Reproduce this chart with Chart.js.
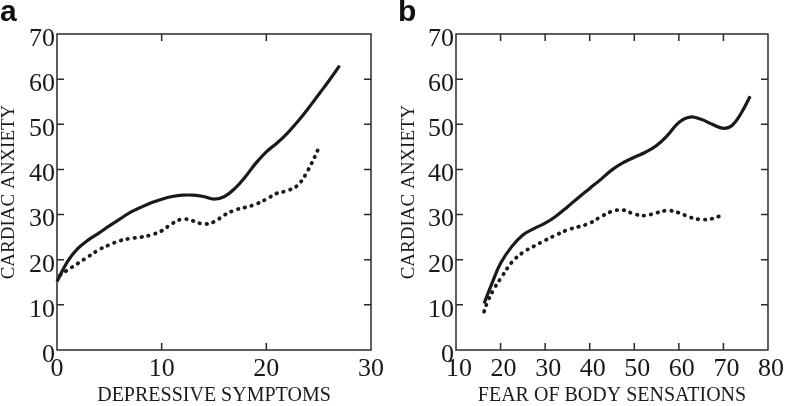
<!DOCTYPE html>
<html>
<head>
<meta charset="utf-8">
<script src="https://cdn.jsdelivr.net/npm/chart.js@4"></script>
<style>
  body { margin: 0; background: #fff; }
  #wrap { position: relative; width: 787px; height: 406px; overflow: hidden; }
  .panel { position: absolute; top: 0; }
  .tag { position: absolute; top: -6px; font: bold 30px "Liberation Sans", Arial, sans-serif; color: #111; }
</style>
</head>
<body>
<div id="wrap">
  <div class="panel" style="left:0"><canvas id="chartA" width="393" height="406"></canvas></div>
  <div class="panel" style="left:394px"><canvas id="chartB" width="393" height="406"></canvas></div>
  <span class="tag" style="left:0">a</span>
  <span class="tag" style="left:398px">b</span>
</div>
<script>
// panel a: depressive symptoms
const depSolidX = [0, 1, 2, 3, 4, 5, 6, 7, 8, 9, 10, 11, 12, 13, 14, 15, 16, 17, 18, 19, 20, 21, 22, 23, 24, 25, 26, 27];
const depSolidY = [15.2, 19.6, 22.5, 24.4, 25.9, 27.5, 29.0, 30.5, 31.6, 32.6, 33.4, 34.0, 34.3, 34.3, 34.0, 33.4, 34.0, 35.8, 38.4, 41.4, 43.9, 45.8, 48.0, 50.6, 53.5, 56.6, 59.7, 63.0];
const depDotX = [0.3, 1, 2, 3, 4, 5, 6, 7, 8, 9, 10, 11, 12, 13, 14, 15, 16, 17, 18, 19, 20, 21, 22, 23, 24, 25];
const depDotY = [16.6, 17.7, 19.2, 20.7, 22.2, 23.3, 24.2, 24.7, 25.0, 25.5, 26.4, 28.0, 29.0, 28.6, 27.9, 28.4, 29.9, 31.0, 31.6, 32.3, 33.4, 34.7, 35.3, 36.5, 39.9, 44.7];

// panel b: fear of body sensations
const fearSolidX = [16.3, 18, 20, 22.5, 25, 27.5, 30, 32.5, 35, 37.5, 40, 42.5, 45, 47.5, 50, 52.5, 55, 57.5, 60, 62.5, 65, 67.5, 70, 72, 74, 76];
const fearSolidY = [10.3, 14.6, 19.2, 22.9, 25.5, 26.9, 28.1, 29.7, 31.7, 33.8, 35.8, 37.8, 39.9, 41.5, 42.7, 43.8, 45.3, 47.6, 50.4, 51.6, 51.1, 50.0, 49.1, 49.8, 52.5, 56.2];
const fearDotX = [16.3, 17, 18.5, 20, 22.5, 25, 27.5, 30, 32.5, 35, 37.5, 40, 42.5, 45, 47.5, 50, 52.5, 55, 57.5, 60, 62.5, 65, 67.5, 69];
const fearDotY = [8.5, 10.5, 13.5, 15.8, 19.4, 21.6, 23.0, 24.3, 25.5, 26.6, 27.3, 28.1, 29.5, 30.7, 31.0, 30.1, 29.8, 30.4, 30.9, 30.4, 29.4, 28.9, 29.1, 29.6];

const yTicks = [0, 10, 20, 30, 40, 50, 60, 70];

const serif = '"Liberation Serif", "Times New Roman", serif';
const ink = '#1a1a1a';

const toPoints = (xs, ys) => xs.map((x, i) => ({ x: x, y: ys[i] }));

// box round the plot with inward tick marks on all four sides
const frame = {
  id: 'frame',
  afterDraw: (chart) => {
    const { ctx, chartArea: a, scales: { x, y } } = chart;
    ctx.save();
    ctx.strokeStyle = '#2a2a2a';
    ctx.lineWidth = 1.5;
    ctx.strokeRect(a.left, a.top, a.width, a.height);
    ctx.beginPath();
    x.ticks.forEach(t => {
      if (t.value <= x.min || t.value >= x.max) return;
      const px = x.getPixelForValue(t.value);
      ctx.moveTo(px, a.bottom); ctx.lineTo(px, a.bottom - 7);
      ctx.moveTo(px, a.top); ctx.lineTo(px, a.top + 7);
    });
    y.ticks.forEach(t => {
      if (t.value <= y.min || t.value >= y.max) return;
      const py = y.getPixelForValue(t.value);
      ctx.moveTo(a.left, py); ctx.lineTo(a.left + 7, py);
      ctx.moveTo(a.right, py); ctx.lineTo(a.right - 7, py);
    });
    ctx.stroke();
    ctx.restore();
  }
};

function makeChart(id, o) {
  new Chart(document.getElementById(id), {
    type: 'line',
    data: {
      datasets: [
        {
          data: toPoints(o.solidX, o.solidY),
          borderColor: ink, borderWidth: 3.2, pointRadius: 0,
          tension: 0.4, fill: false, clip: false
        },
        {
          data: toPoints(o.dotX, o.dotY),
          borderColor: ink, borderWidth: 3.8, pointRadius: 0,
          borderDash: [0.5, 6.5], borderCapStyle: 'round',
          tension: 0.4, fill: false, clip: false
        }
      ]
    },
    options: {
      responsive: false,
      animation: false,
      layout: { padding: { top: 34, right: o.padRight, left: o.padLeft, bottom: 0 } },
      plugins: { legend: { display: false }, tooltip: { enabled: false } },
      scales: {
        x: {
          type: 'linear',
          min: o.xMin, max: o.xMax,
          afterFit: (s) => { s.height = 56; },
          grid: { display: false, drawTicks: false },
          border: { display: false },
          ticks: { stepSize: 10, padding: 4, labelOffset: o.xLabelOffset, color: ink, font: { family: serif, size: 26, lineHeight: 1.2 } },
          title: { display: true, text: o.xTitle, color: ink, padding: 0, font: { family: serif, size: 20, lineHeight: 1 } }
        },
        y: {
          type: 'linear',
          min: 0, max: 70,
          afterFit: (s) => { s.width = o.yWidth; },
          afterBuildTicks: (s) => { s.ticks = yTicks.map(v => ({ value: v })); },
          grid: { display: false, drawTicks: false },
          border: { display: false },
          ticks: { padding: 2, labelOffset: 5, color: ink, font: { family: serif, size: 26, lineHeight: 1.2 } },
          title: { display: true, text: 'CARDIAC ANXIETY', color: ink, padding: 0, font: { family: serif, size: 19, lineHeight: 1 } }
        }
      }
    },
    plugins: [frame]
  });
}

makeChart('chartA', {
  solidX: depSolidX, solidY: depSolidY, dotX: depDotX, dotY: depDotY,
  xMin: 0, xMax: 30, xTitle: 'DEPRESSIVE SYMPTOMS',
  padLeft: 0, padRight: 22, yWidth: 57, xLabelOffset: 0
});

makeChart('chartB', {
  solidX: fearSolidX, solidY: fearSolidY, dotX: fearDotX, dotY: fearDotY,
  xMin: 10, xMax: 80, xTitle: 'FEAR OF BODY SENSATIONS',
  padLeft: 6, padRight: 19, yWidth: 56, xLabelOffset: 3
});
</script>
</body>
</html>
